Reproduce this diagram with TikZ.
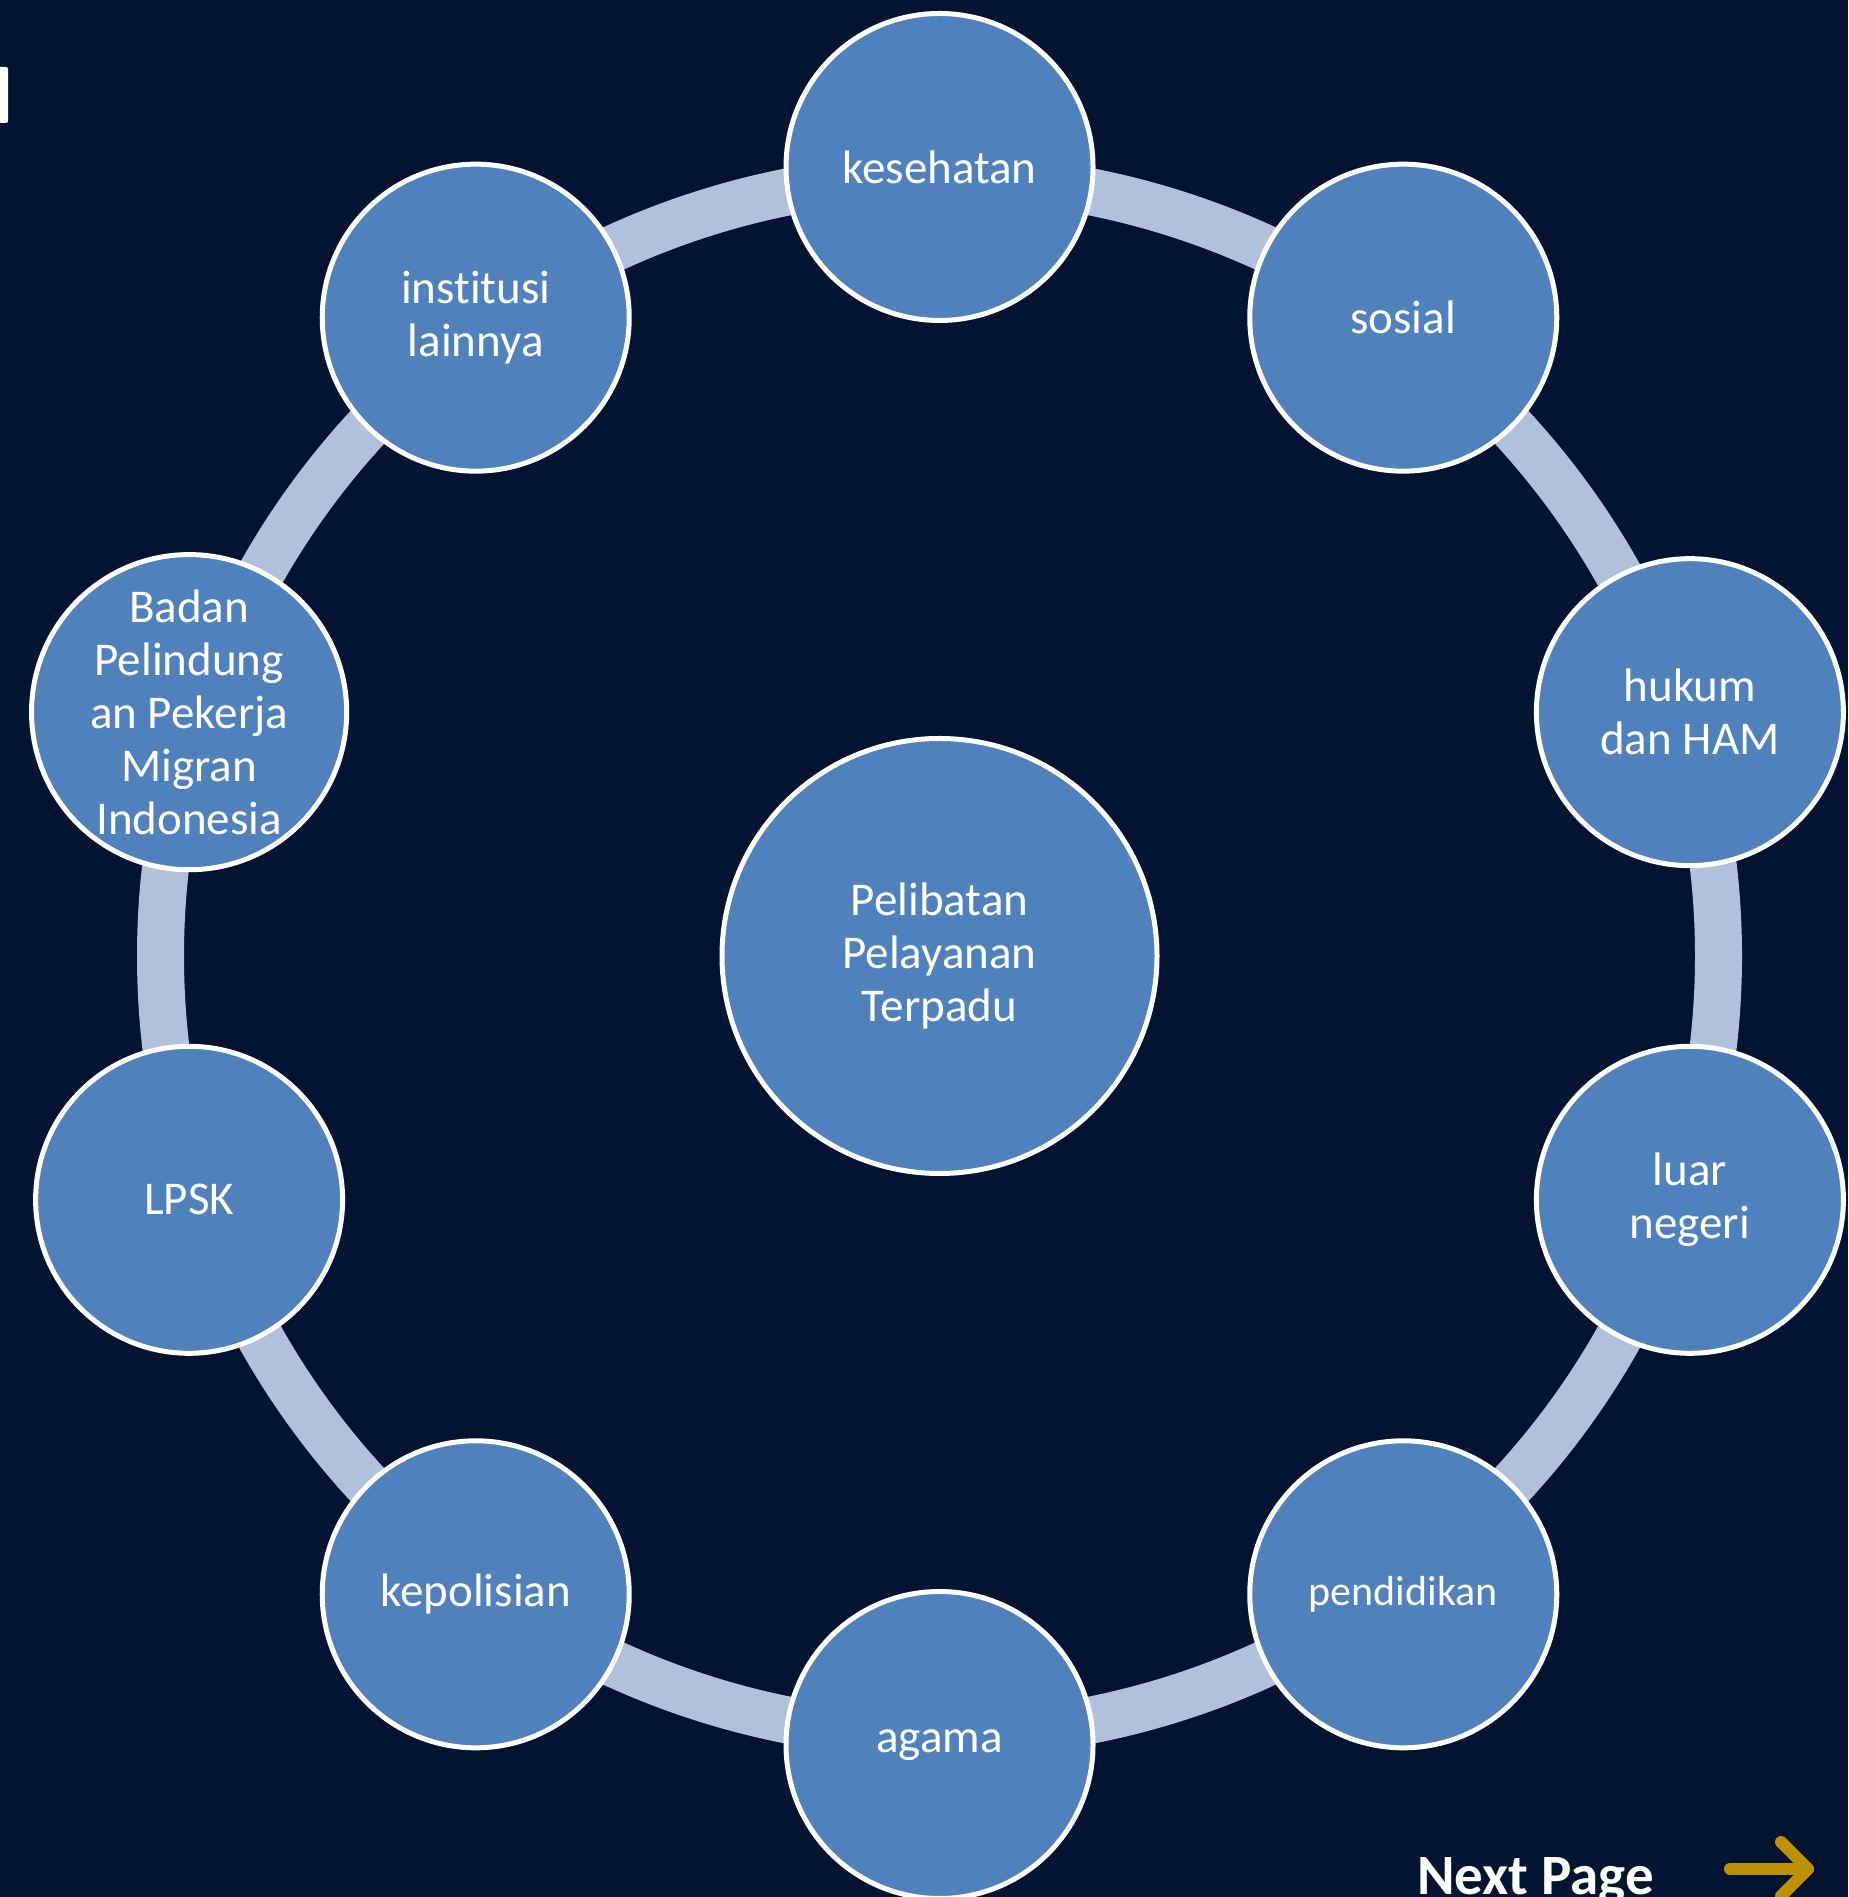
\documentclass[tikz,border=0pt]{standalone}
\usepackage{fontspec}
\setmainfont{Carlito}[Ligatures=NoCommon]
\usetikzlibrary{calc}
\definecolor{bgnavy}{RGB}{1,20,50}
\definecolor{nodeblue}{RGB}{79,129,189}
\definecolor{ringblue}{RGB}{176,193,220}
\definecolor{goldarrow}{RGB}{191,144,0}
\tikzset{
  ringarc/.style={draw=ringblue, line width=47pt},
  outernode/.style={circle, draw=white, line width=5pt, fill=nodeblue, minimum size=307pt, inner sep=0pt, text=white, align=center, font=\fontsize{47}{53}\selectfont},
  centernode/.style={circle, draw=white, line width=5pt, fill=nodeblue, minimum size=435pt, inner sep=0pt, text=white, align=center, font=\fontsize{47}{53}\selectfont},
}
\begin{document}
\begin{tikzpicture}[x=1pt,y=1pt]
\useasboundingbox (0,0) rectangle (1848,1897);
\fill[bgnavy] (0,0) rectangle (1848,1897);
\coordinate (c) at (939.5,941);
% ring arcs between nodes
\foreach \i in {0,...,9}{
  \pgfmathsetmacro{\a}{90-36*\i}
  \coordinate (r\i) at ($(c)+(\a:779)$);
}
\foreach \i in {0,...,9}{
  \pgfmathsetmacro{\a}{90-36*\i}
  \pgfmathsetmacro{\b}{90-36*(\i+1)}
  \draw[ringarc] (r\i) arc[start angle=\a, end angle=\b, radius=779];
}
% nodes
\node[outernode] (kes) at ($(c)+(90:789)$) {kesehatan};
\node[outernode] (sos) at ($(c)+(54:789)$) {sosial};
\node[outernode] (huk) at ($(c)+(18:789)$) {hukum\\dan HAM};
\node[outernode] (lua) at ($(c)+(-18:789)$) {luar\\negeri};
\node[outernode, font=\fontsize{42}{48}\selectfont] (pen) at ($(c)+(-54:789)$) {pendidikan};
\node[outernode] (aga) at ($(c)+(-90:789)$) {agama};
\node[outernode] (kep) at ($(c)+(-126:789)$) {kepolisian};
\node[outernode] (lps) at ($(c)+(-162:789)$) {LPSK};
\node[outernode] (bad) at ($(c)+(162:789)$) {Badan\\Pelindung\\an Pekerja\\Migran\\Indonesia};
\node[outernode] (ins) at ($(c)+(126:789)$) {institusi\\lainnya};
\node[centernode] (ctr) at (c) {Pelibatan\\Pelayanan\\Terpadu};
% next page
\node[anchor=base west, inner sep=0pt, text=white, font=\fontsize{57}{60}\selectfont\bfseries] (np) at (1417,2) {Next Page};
\coordinate (as) at (1730,28);
\coordinate (at) at (1808,28);
\coordinate (au) at (1781,55);
\coordinate (ad) at (1781,1);
\draw[goldarrow, line width=12pt, line cap=round, line join=round] (as) -- (at);
\draw[goldarrow, line width=12pt, line cap=round, line join=round] (au) -- (at) -- (ad);
% white bar top-left
\fill[white, rounded corners=2pt] (-6,1774) rectangle (8,1830);
\end{tikzpicture}
\end{document}
